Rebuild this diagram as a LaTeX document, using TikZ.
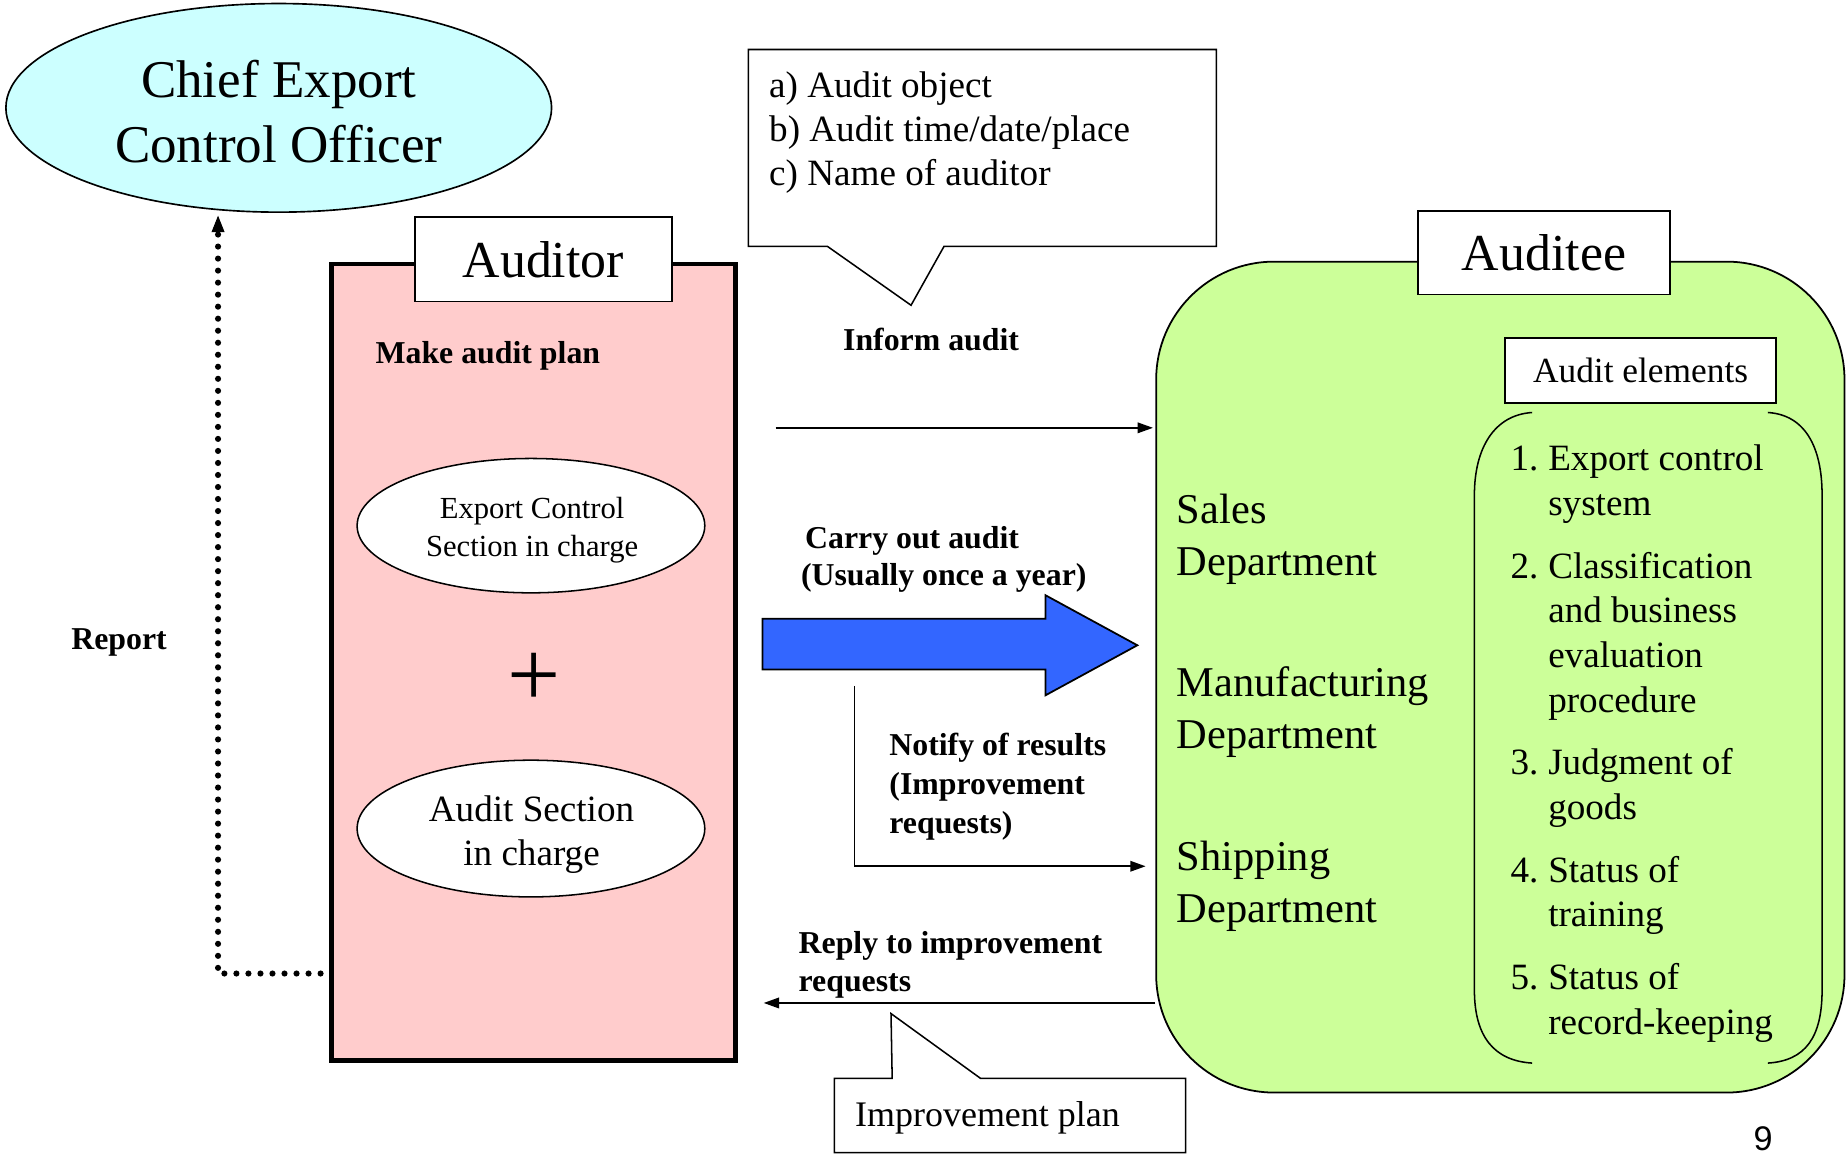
\documentclass[tikz,border=0pt]{standalone}
\usepackage{fontspec}
\setmainfont{Liberation Serif}
\newfontfamily\pagefont{Liberation Sans}
\usetikzlibrary{shapes.geometric,arrows.meta}
\definecolor{cyanfill}{HTML}{CCFFFF}
\definecolor{pinkfill}{HTML}{FFCCCC}
\definecolor{greenfill}{HTML}{CCFF99}
\definecolor{bluefill}{HTML}{3366FF}
\newcommand\fsz[2]{\fontsize{#1}{#2}\selectfont}
\begin{document}
\begin{tikzpicture}[x=1pt,y=-1pt,line width=1.3pt,
  box/.style={draw, fill=white, inner sep=0, line width=1.3pt},
  lefttext/.style={anchor=base west, inner sep=0},
  arr/.style={-{Triangle[length=13pt,width=9pt]}, line width=1.3pt},
]
\useasboundingbox (0,0) rectangle (1568,983);

% Chief export control officer
\node[ellipse, draw, fill=cyanfill, minimum width=463pt, minimum height=177pt, inner sep=0, line width=1.4pt] (chief) at (236.5,91.5) {};
\node[align=center, inner sep=0, font=\fsz{45}{55}] (chieftxt) at (236.5,94.5) {Chief Export\\Control Officer};

% Auditor
\node[draw, line width=4pt, fill=pinkfill, minimum width=343pt, minimum height=676pt, inner sep=0] (auditor) at (452.5,562) {};
\node[box, minimum width=218pt, minimum height=72pt, font=\fsz{44}{52}] (auditorlbl) at (461,220) {Auditor};
\node[lefttext, font=\bfseries\fsz{27}{33}] (plan) at (318,308) {Make audit plan};
\node[ellipse, draw, fill=white, minimum width=295pt, minimum height=114pt, inner sep=0] (ecs) at (450.5,446) {};
\node[align=center, inner sep=0, font=\fsz{26}{32.5}] (ecstxt) at (451.5,450) {Export Control\\Section in charge};
\node[font=\fsz{80}{82}, inner sep=0] (plus) at (453,577) {+};
\node[ellipse, draw, fill=white, minimum width=295pt, minimum height=116pt, inner sep=0] (asc) at (450.5,703) {};
\node[align=center, inner sep=0, font=\fsz{31.5}{37}] (asctxt) at (451,708) {Audit Section\\in charge};

% Report
\coordinate (repS) at (272,826);
\coordinate (repE) at (185,183);
\draw[line width=5.2pt, line cap=round, dash pattern=on 0pt off 10.2pt, -{Triangle[length=14pt,width=11pt,line width=0.8pt]}] (repS) -| (repE);
\node[font=\bfseries\fsz{27}{33}, inner sep=0] (report) at (101,545) {Report};

% Inform audit callout
\draw[fill=white] (635,42) -- (1032,42) -- (1032,209) -- (801,209) -- (773,259) -- (702,209) -- (635,209) -- cycle;
\node[lefttext, font=\fsz{31.5}{37.5}] (info) at (652,82.5) {\begin{tabular}[t]{@{}l@{}}a) Audit object\\b) Audit time/date/place\\c) Name of auditor\end{tabular}};
\node[font=\bfseries\fsz{27}{33}, inner sep=0] (inform) at (790,288) {Inform audit};

% Auditee
\node[draw, fill=greenfill, rounded corners=100pt, minimum width=584pt, minimum height=705pt, inner sep=0, line width=1.5pt] (auditee) at (1273,574.5) {};
\node[box, minimum width=214pt, minimum height=71pt, font=\fsz{44}{52}] (auditeelbl) at (1310,214.5) {Auditee};
\node[box, minimum width=230pt, minimum height=55pt, font=\fsz{30}{36}] (ae) at (1392,314.5) {Audit elements};
\draw (1300,350) .. controls (1268,352) and (1251,380) .. (1251,420) -- (1251,840) .. controls (1251,880) and (1268,900) .. (1300,902);
\draw (1500,350) .. controls (1532,352) and (1546,380) .. (1546,420) -- (1546,840) .. controls (1546,880) and (1532,900) .. (1500,902);

\node[lefttext, font=\fsz{36}{44}] (sales) at (998,444) {\begin{tabular}[t]{@{}l@{}}Sales\\Department\end{tabular}};
\node[lefttext, font=\fsz{36}{44}] (manu) at (998,591) {\begin{tabular}[t]{@{}l@{}}Manufacturing\\Department\end{tabular}};
\node[lefttext, font=\fsz{36}{44}] (ship) at (998,739) {\begin{tabular}[t]{@{}l@{}}Shipping\\Department\end{tabular}};

\node[lefttext, font=\fsz{31.5}{38}] (items) at (1281,399.5) {\begin{tabular}[t]{@{}l@{\hspace{8.4pt}}l@{}}
1. & Export control\\ & system\\[15pt]
2. & Classification\\ & and business\\ & evaluation\\ & procedure\\[15pt]
3. & Judgment of\\ & goods\\[15pt]
4. & Status of\\ & training\\[15pt]
5. & Status of\\ & record-keeping\end{tabular}};

% Inform arrow
\coordinate (infS) at (658,363);
\draw[arr, shorten >=2pt] (infS) -- (auditee.west |- infS);

% Carry out audit
\node[lefttext, font=\bfseries\fsz{27}{32}] (carry) at (679,465) {\begin{tabular}[t]{@{}l@{}}\hspace{3.5pt}Carry out audit\\(Usually once a year)\end{tabular}};
\draw[fill=bluefill, line width=1.5pt] (647,525) -- (887,525) -- (887,505) -- (965,547.5) -- (887,590) -- (887,568) -- (647,568) -- cycle;

% Notify
\coordinate (notS) at (725,582);
\coordinate (notE) at (972,735);
\draw[arr] (notS) |- (notE);
\node[lefttext, font=\bfseries\fsz{27}{33}] (notify) at (754,641) {\begin{tabular}[t]{@{}l@{}}Notify of results\\(Improvement\\requests)\end{tabular}};

% Reply
\coordinate (rplS) at (auditee.west |- 0,851);
\coordinate (rplE) at (648,851);
\draw[arr] (rplS) -- (rplE);
\node[lefttext, font=\bfseries\fsz{27}{32}] (reply) at (677,809) {\begin{tabular}[t]{@{}l@{}}Reply to improvement\\requests\end{tabular}};

% Improvement plan callout
\draw[fill=white] (708,915) -- (757,915) -- (756,860) -- (832,915) -- (1006,915) -- (1006,978) -- (708,978) -- cycle;
\node[lefttext, font=\fsz{30.5}{36}] (imp) at (725,956) {Improvement plan};

% page number
\node[font=\pagefont\fsz{29}{34}, inner sep=0] (pg) at (1496,966) {9};
\end{tikzpicture}
\end{document}
